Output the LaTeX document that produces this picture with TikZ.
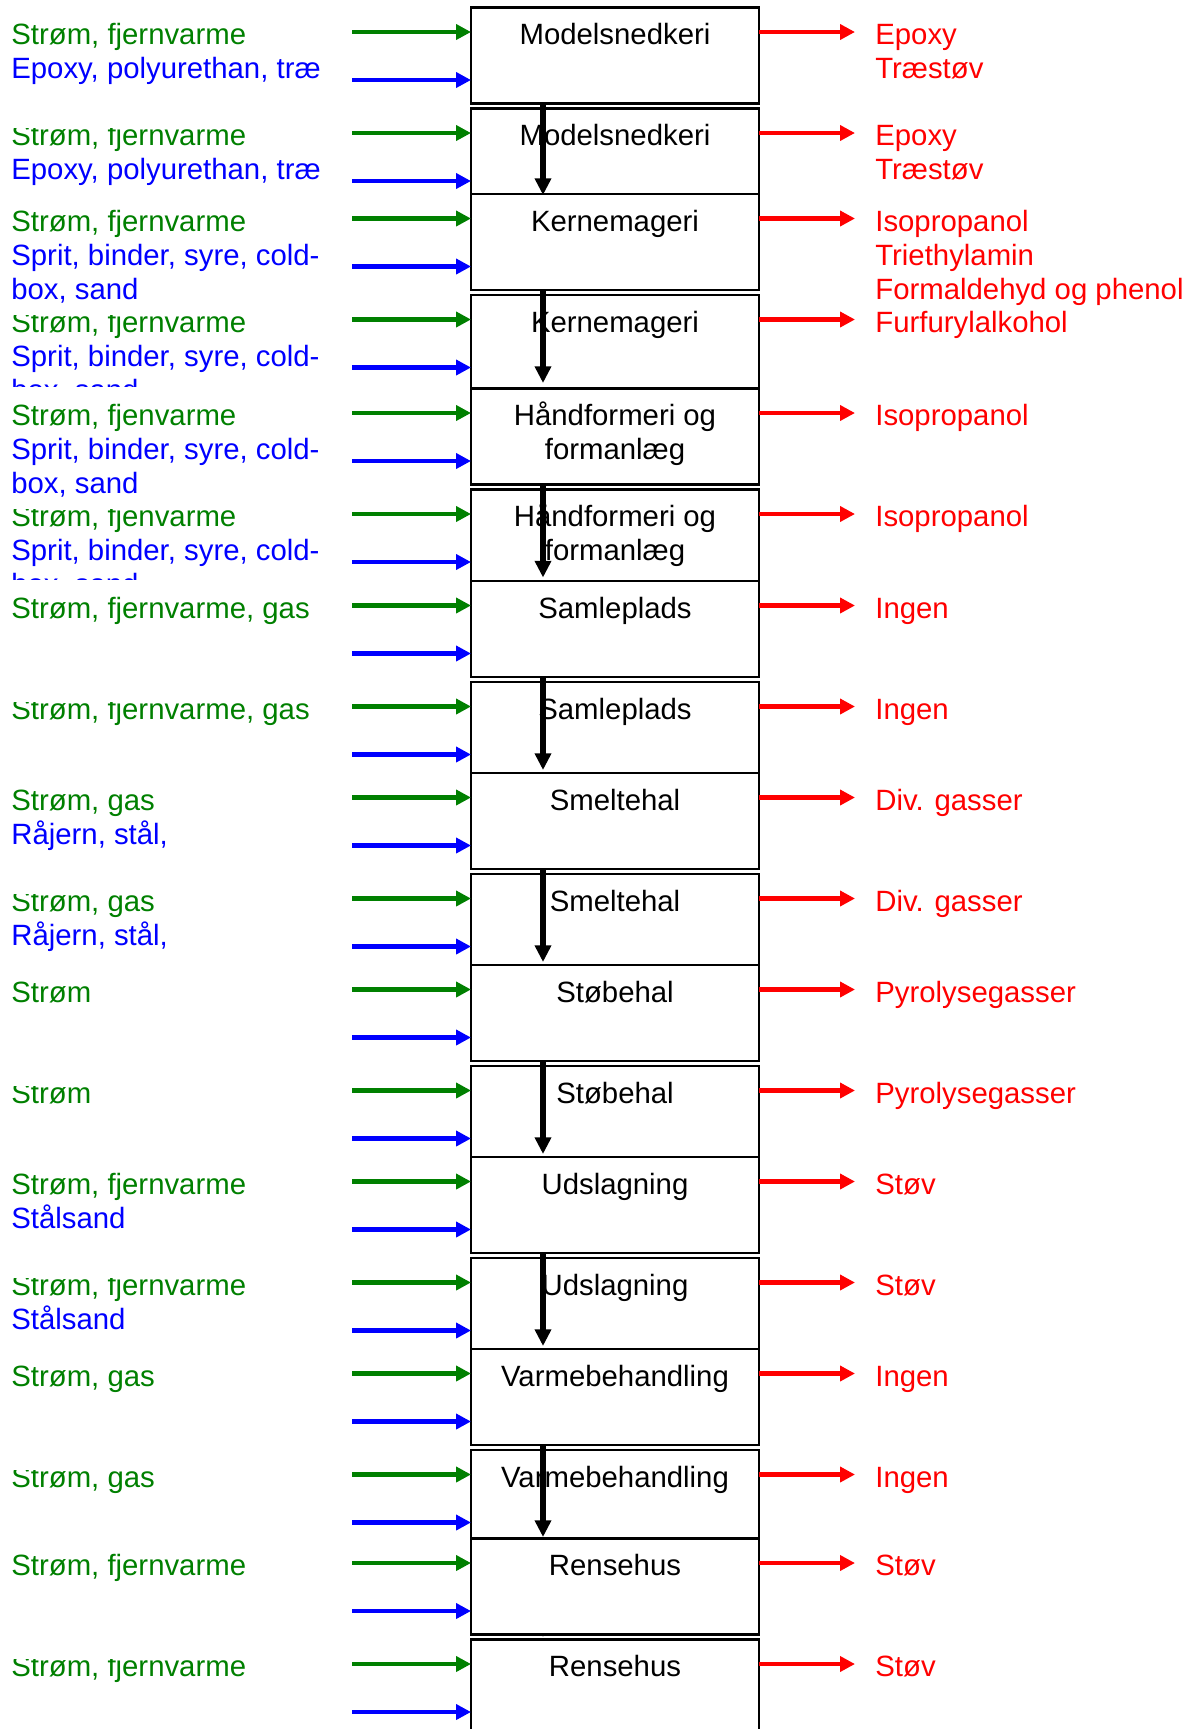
\documentclass[tikz,border=0pt]{standalone}
\usepackage{fontspec}
\setmainfont{Liberation Sans}
\usetikzlibrary{arrows.meta}
\definecolor{ingreen}{RGB}{0,128,0}
\definecolor{inblue}{RGB}{0,0,255}
\definecolor{outred}{RGB}{255,0,0}
\tikzset{
  stagebox/.style = {draw, line width=1.2pt, fill=white, inner sep=0pt, outer sep=0pt,
                     minimum width=5.76cm, minimum height=1.92cm},
  lab/.style      = {font=\fontsize{16.7}{19.35}\selectfont, inner sep=0pt, anchor=base},
  feedtext/.style = {lab, anchor=base west},
  feed/.style     = {-{Triangle[length=8.5pt,width=8.5pt]}, line width=2.4pt},
  waste/.style    = {feed, outred},
  flow/.style     = {-{Triangle[length=9.5pt,width=9pt]}, line width=3pt, black},
}
% #1 name, #2 top, #3 box lines, #4 feed lines, #5 waste lines, #6 #7 band of the feed text
\newcommand{\stage}[7]{%
  \node[stagebox, anchor=north] (#1) at (615,#2) {};
  \foreach \txt [count=\i] in {#3}
    \node[lab] (#1n\i) at (615,{#2+3+34*\i}) {\txt};
  \coordinate (#1g) at (352,#2+24.5);
  \coordinate (#1b) at (352,#2+72.5);
  \coordinate (#1r) at (855,#2+24.5);
  \draw[feed, ingreen] (#1g) -- (#1g -| #1.west);
  \draw[feed, inblue]  (#1b) -- (#1b -| #1.west);
  \draw[waste] (#1g -| #1.east) -- (#1r);
  \begin{scope}
    \clip (0,#6) rectangle (345,#7);
    \foreach \txt [count=\i] in {#4} {
      \ifnum\i=1 \def\feedcol{ingreen}\else\def\feedcol{inblue}\fi
      \node[feedtext, text=\feedcol] (#1f\i) at (11,{#2+3+34*\i}) {\txt};
    }
  \end{scope}
  \foreach \txt [count=\i] in {#5}
    \node[feedtext, text=outred] (#1w\i) at (875,{#2+3+34*\i}) {\txt};
}

\begin{document}
\begin{tikzpicture}[x=0.02cm, y=-0.02cm]
  \path[fill=white, use as bounding box] (0,0) rectangle (1199,1729);

  \stage{mod}{7.5}{Modelsnedkeri}{{Strøm, fjernvarme},{Epoxy, polyurethan, træ}}{Epoxy,Træstøv}{0}{170}
  \stage{modc}{108.5}{Modelsnedkeri}{{Strøm, fjernvarme},{Epoxy, polyurethan, træ}}{Epoxy,Træstøv}{128.5}{192.5}
  \coordinate (modcend) at (543,195);
  \draw[flow] (modcend |- mod.south) -- (modcend);

  \coordinate (kernin) at (543,292.5);
  \draw[flow] (kernin) +(0,-20) -- (kernin);
  \stage{kern}{194}{Kernemageri}{{Strøm, fjernvarme},{Sprit, binder, syre, cold-},{box, sand}}{Isopropanol,Triethylamin,{Formaldehyd og phenol}}{194}{360}
  \stage{kernc}{295}{Kernemageri}{{Strøm, fjernvarme},{Sprit, binder, syre, cold-},{box, sand}}{Furfurylalkohol}{315}{386.8}
  \coordinate (kerncend) at (543,383);
  \draw[flow] (kerncend |- kern.south) -- (kerncend);

  \coordinate (haandin) at (543,487);
  \draw[flow] (haandin) +(0,-20) -- (haandin);
  \stage{haand}{388.5}{{Håndformeri og},formanlæg}{{Strøm, fjenvarme},{Sprit, binder, syre, cold-},{box, sand}}{Isopropanol}{388.5}{560}
  \stage{haandc}{489.5}{{Håndformeri og},formanlæg}{{Strøm, fjenvarme},{Sprit, binder, syre, cold-},{box, sand}}{Isopropanol}{509.5}{579.5}
  \coordinate (haandcend) at (543,577.5);
  \draw[flow] (haandcend |- haand.south) -- (haandcend);

  \coordinate (samlin) at (543,679.5);
  \draw[flow] (samlin) +(0,-20) -- (samlin);
  \stage{saml}{581}{Samleplads}{{Strøm, fjernvarme, gas}}{Ingen}{581}{760}
  \stage{samlc}{682}{Samleplads}{{Strøm, fjernvarme, gas}}{Ingen}{702}{771.5}
  \coordinate (samlcend) at (543,770);
  \draw[flow] (samlcend |- saml.south) -- (samlcend);

  \coordinate (smeltin) at (543,871.5);
  \draw[flow] (smeltin) +(0,-20) -- (smeltin);
  \stage{smelt}{773}{Smeltehal}{{Strøm, gas},{Råjern, stål,}}{{Div. gasser}}{773}{950}
  \stage{smeltc}{874}{Smeltehal}{{Strøm, gas},{Råjern, stål,}}{{Div. gasser}}{894}{963.5}
  \coordinate (smeltcend) at (543,962);
  \draw[flow] (smeltcend |- smelt.south) -- (smeltcend);

  \coordinate (stoebin) at (543,1063.5);
  \draw[flow] (stoebin) +(0,-20) -- (stoebin);
  \stage{stoeb}{965}{Støbehal}{Strøm}{Pyrolysegasser}{965}{1140}
  \stage{stoebc}{1066}{Støbehal}{Strøm}{Pyrolysegasser}{1086}{1155.5}
  \coordinate (stoebcend) at (543,1154);
  \draw[flow] (stoebcend |- stoeb.south) -- (stoebcend);

  \coordinate (udslin) at (543,1255.5);
  \draw[flow] (udslin) +(0,-20) -- (udslin);
  \stage{udsl}{1157}{Udslagning}{{Strøm, fjernvarme},Stålsand}{Støv}{1157}{1330}
  \stage{udslc}{1258}{Udslagning}{{Strøm, fjernvarme},Stålsand}{Støv}{1278}{1347.5}
  \coordinate (udslcend) at (543,1346);
  \draw[flow] (udslcend |- udsl.south) -- (udslcend);

  \coordinate (varmein) at (543,1447.5);
  \draw[flow] (varmein) +(0,-20) -- (varmein);
  \stage{varme}{1349}{Varmebehandling}{{Strøm, gas}}{Ingen}{1349}{1520}
  \stage{varmec}{1450}{Varmebehandling}{{Strøm, gas}}{Ingen}{1470}{1537}
  \coordinate (varmecend) at (543,1537);
  \draw[flow] (varmecend |- varme.south) -- (varmecend);

  \coordinate (rensin) at (543,1637);
  \draw[flow] (rensin) +(0,-20) -- (rensin);
  \stage{rens}{1538.5}{Rensehus}{{Strøm, fjernvarme}}{Støv}{1538.5}{1720}
  \stage{rensc}{1639.5}{Rensehus}{{Strøm, fjernvarme}}{Støv}{1659.5}{1729}
\end{tikzpicture}
\end{document}
